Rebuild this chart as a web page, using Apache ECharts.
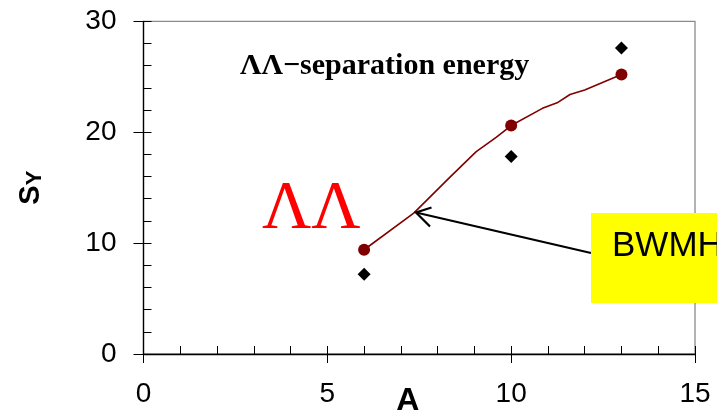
<!DOCTYPE html>
<html><head><meta charset="utf-8">
<script src="https://cdn.jsdelivr.net/npm/echarts@6/dist/echarts.min.js"></script>
<style>html,body{margin:0;padding:0;background:#fff}#c{width:717px;height:411px}</style>
</head><body><div id="c"></div>
<script>
// Axis ticks
const xTicks = [0, 5, 10, 15];
const yTicks = [0, 10, 20, 30];
// BWMH calculated curve (line)
const curveA = [6, 7.35, 8.35, 9.05, 9.6, 10, 10.85, 11.25, 11.6, 12, 13];
const curveS = [9.4, 12.7, 16.0, 18.25, 19.55, 20.6, 22.15, 22.65, 23.4, 23.8, 25.2];
// calculated points (dark red circles)
const calcA = [6, 10, 13];
const calcS = [9.4, 20.6, 25.2];
// experimental points (black diamonds)
const expA = [6, 10, 13];
const expS = [7.2, 17.8, 27.6];

const zip = (a, b) => a.map((v, i) => [v, b[i]]);
const chart = echarts.init(document.getElementById('c'), null, {renderer: 'canvas'});
const tickFont = {fontFamily: '"Liberation Sans", Arial, sans-serif', fontSize: 28, color: '#000'};

chart.setOption({
  animation: false,
  backgroundColor: '#fff',
  grid: {left: 143.5, right: 22, top: 21.3, bottom: 57, show: true, containLabel: false, outerBoundsMode: 'none',
         borderColor: '#8a8a8a', borderWidth: 1.3, backgroundColor: 'transparent'},
  xAxis: [{
    type: 'value', position: 'bottom', min: xTicks[0], max: xTicks[xTicks.length - 1], interval: xTicks[1] - xTicks[0],
    splitLine: {show: false},
    axisLine: {show: true, onZero: false, lineStyle: {color: '#000', width: 1.3}},
    axisTick: {show: true, inside: false, length: 9, lineStyle: {color: '#000', width: 1}},
    axisLabel: Object.assign({margin: 26}, tickFont),
    name: 'A', nameLocation: 'middle', nameGap: 31, nameMoveOverlap: false,
    nameTextStyle: {fontFamily: '"Liberation Sans", Arial, sans-serif', fontWeight: 'bold', fontSize: 32, color: '#000', padding: [0, 23, 0, 0]}
  }, {
    type: 'value', position: 'bottom', min: 0, max: 15, interval: 1,
    splitLine: {show: false}, axisLine: {show: false}, axisLabel: {show: false},
    axisTick: {show: true, inside: true, length: 8, lineStyle: {color: '#000', width: 1}}
  }],
  yAxis: [{
    type: 'value', position: 'left', min: yTicks[0], max: yTicks[yTicks.length - 1], interval: yTicks[1] - yTicks[0],
    splitLine: {show: false},
    axisLine: {show: true, onZero: false, lineStyle: {color: '#000', width: 1.3}},
    axisTick: {show: true, inside: false, length: 10, lineStyle: {color: '#000', width: 1}},
    axisLabel: Object.assign({margin: 27}, tickFont),
    name: '{s|S}{y|Y}', nameLocation: 'middle', nameRotate: 90, nameGap: 98, nameMoveOverlap: false,
    nameTextStyle: {
      rich: {
        s: {fontFamily: '"Liberation Sans", Arial, sans-serif', fontWeight: 'bold', fontSize: 29, color: '#000', lineHeight: 32, verticalAlign: 'bottom'},
        y: {fontFamily: '"Liberation Sans", Arial, sans-serif', fontWeight: 'bold', fontSize: 22, color: '#000', lineHeight: 32, verticalAlign: 'bottom'}
      }
    }
  }, {
    type: 'value', position: 'left', min: 0, max: 30, interval: 2,
    splitLine: {show: false}, axisLine: {show: false}, axisLabel: {show: false},
    axisTick: {show: true, inside: true, length: 8, lineStyle: {color: '#000', width: 1}}
  }],
  series: [{
    type: 'line', data: zip(curveA, curveS), showSymbol: false, symbol: 'none',
    lineStyle: {color: '#800000', width: 1.6}, z: 2
  }, {
    type: 'scatter', data: zip(calcA, calcS), symbol: 'circle', symbolSize: 12,
    itemStyle: {color: '#800000', opacity: 1}, z: 3
  }, {
    type: 'scatter', data: zip(expA, expS), symbol: 'diamond', symbolSize: 13,
    itemStyle: {color: '#000', opacity: 1}, z: 3
  }],
  graphic: [
    {type: 'text', left: 240, top: 51, z: 10, style: {text: 'ΛΛ−separation energy', font: 'bold 30px "Liberation Serif", "Times New Roman", serif', fill: '#000'}},
    {type: 'text', left: 262, top: 175, z: 10, style: {text: 'ΛΛ', font: '68px "Liberation Serif", "Times New Roman", serif', fill: '#ff0000'}},
    {type: 'rect', shape: {x: 591, y: 213, width: 140, height: 90}, style: {fill: '#ffff00'}, z: 20},
    {type: 'text', x: 612, y: 246, z: 21, style: {text: 'BWMH', font: '35px "Liberation Sans", Arial, sans-serif', fill: '#000', verticalAlign: 'middle'}},
    {type: 'line', shape: {x1: 591, y1: 253, x2: 416, y2: 212.5}, style: {stroke: '#000', lineWidth: 2.2}, z: 19},
    {type: 'polyline', shape: {points: [[431.5, 207.5], [416, 212.5], [430, 226.5]]}, style: {stroke: '#000', lineWidth: 2.2, fill: null}, z: 19}
  ]
});
</script></body></html>
